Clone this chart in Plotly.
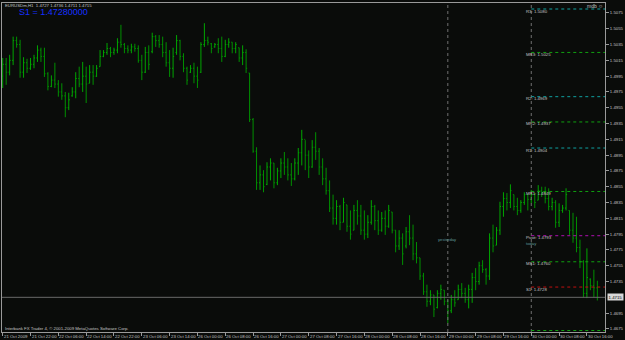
import plotly.graph_objects as go

# ---------------- data (EURUSDm, H1) ----------------
opens = [1.4995,1.5010,1.5000,1.5015,1.5040,1.5035,1.5000,1.5012,1.5005,1.5010,
         1.5018,1.5028,1.5020,1.4998,1.4982,1.4990,1.4985,1.4975,1.4970,1.4955,
         1.4970,1.4975,1.4992,1.4985,1.4995,1.4986,1.5000,1.4995,1.5007,1.5020,
         1.5025,1.5030,1.5025,1.5028,1.5038,1.5035,1.5030,1.5028,1.5032,1.5030,
         1.5015,1.5000,1.5025,1.5026,1.5045,1.5040,1.5035,1.5025,1.5012,1.5005,
         1.5025,1.5040,1.5020,1.5005,1.5000,1.5005,1.4995,1.5000,1.5035,1.5040,
         1.5036,1.5032,1.5035,1.5030,1.5020,1.5035,1.5038,1.5030,1.5031,1.5018,
         1.5025,1.4999,1.4940,1.4900,1.4860,1.4870,1.4858,1.4880,1.4885,1.4860,
         1.4875,1.4885,1.4880,1.4870,1.4865,1.4885,1.4898,1.4915,1.4895,1.4880,
         1.4905,1.4900,1.4880,1.4865,1.4850,1.4828,1.4815,1.4830,1.4810,1.4832,
         1.4805,1.4800,1.4825,1.4818,1.4800,1.4795,1.4810,1.4830,1.4812,1.4800,
         1.4815,1.4805,1.4823,1.4800,1.4780,1.4790,1.4780,1.4798,1.4790,1.4770,
         1.4765,1.4742,1.4722,1.4710,1.4718,1.4702,1.4720,1.4724,1.4710,1.4698,
         1.4712,1.4712,1.4725,1.4720,1.4712,1.4725,1.4740,1.4735,1.4755,1.4750,
         1.4742,1.4790,1.4781,1.4800,1.4830,1.4840,1.4835,1.4845,1.4830,1.4825,
         1.4835,1.4845,1.4839,1.4845,1.4838,1.4850,1.4848,1.4840,1.4830,1.4835,
         1.4810,1.4825,1.4828,1.4825,1.4800,1.4790,1.4778,1.4760,1.4720,1.4738,
         1.4730,1.4727]
highs = [1.5018,1.5018,1.5022,1.5045,1.5045,1.5041,1.5019,1.5017,1.5018,1.5022,
         1.5034,1.5031,1.5031,1.5000,1.4996,1.5012,1.4990,1.4986,1.4975,1.4974,
         1.4981,1.5000,1.5007,1.5013,1.5007,1.5009,1.5009,1.5009,1.5028,1.5028,
         1.5037,1.5032,1.5031,1.5043,1.5060,1.5037,1.5034,1.5036,1.5036,1.5034,
         1.5022,1.5032,1.5034,1.5050,1.5047,1.5047,1.5045,1.5038,1.5028,1.5031,
         1.5047,1.5041,1.5024,1.5007,1.5009,1.5012,1.5007,1.5038,1.5062,1.5045,
         1.5037,1.5037,1.5043,1.5045,1.5041,1.5043,1.5038,1.5038,1.5031,1.5034,
         1.5029,1.4999,1.4942,1.4905,1.4882,1.4876,1.4886,1.4891,1.4885,1.4879,
         1.4891,1.4899,1.4891,1.4885,1.4891,1.4904,1.4927,1.4914,1.4901,1.4914,
         1.4924,1.4904,1.4891,1.4879,1.4863,1.4845,1.4838,1.4832,1.4841,1.4832,
         1.4825,1.4832,1.4838,1.4832,1.4825,1.4819,1.4838,1.4832,1.4825,1.4823,
         1.4825,1.4832,1.4823,1.4800,1.4800,1.4796,1.4804,1.4819,1.4807,1.4785,
         1.4765,1.4746,1.4731,1.4724,1.4718,1.4724,1.4731,1.4724,1.4712,1.4718,
         1.4724,1.4731,1.4733,1.4727,1.4731,1.4746,1.4752,1.4760,1.4762,1.4752,
         1.4796,1.4807,1.4804,1.4836,1.4848,1.4847,1.4858,1.4845,1.4841,1.4838,
         1.4848,1.4845,1.4851,1.4847,1.4857,1.4855,1.4855,1.4853,1.4841,1.4838,
         1.4834,1.4832,1.4853,1.4825,1.4822,1.4817,1.4788,1.4762,1.4777,1.4739,
         1.4750,1.4736]
lows = [1.4980,1.4984,1.4996,1.5009,1.5031,1.4993,1.4993,1.4999,1.5003,1.5005,
        1.5013,1.5013,1.4994,1.4977,1.4981,1.4980,1.4969,1.4965,1.4943,1.4952,
        1.4969,1.4967,1.4981,1.4975,1.4961,1.4986,1.4984,1.4994,1.5007,1.5019,
        1.5022,1.5019,1.5022,1.5024,1.5031,1.5024,1.5024,1.5024,1.5026,1.5012,
        1.4990,1.4999,1.5003,1.5024,1.5032,1.5031,1.5019,1.5007,1.4994,1.4993,
        1.5022,1.5015,1.5000,1.4984,1.4999,1.4986,1.4980,1.4999,1.5032,1.5034,
        1.5024,1.5031,1.5024,1.5013,1.5019,1.5031,1.5024,1.5024,1.5013,1.5009,
        1.4999,1.4937,1.4898,1.4851,1.4851,1.4848,1.4857,1.4863,1.4853,1.4857,
        1.4866,1.4870,1.4863,1.4856,1.4863,1.4870,1.4882,1.4876,1.4866,1.4879,
        1.4889,1.4870,1.4857,1.4845,1.4823,1.4807,1.4807,1.4800,1.4810,1.4798,
        1.4788,1.4800,1.4807,1.4794,1.4788,1.4790,1.4807,1.4800,1.4794,1.4798,
        1.4794,1.4803,1.4796,1.4772,1.4775,1.4756,1.4777,1.4781,1.4762,1.4758,
        1.4737,1.4718,1.4703,1.4705,1.4690,1.4701,1.4712,1.4705,1.4682,1.4695,
        1.4703,1.4712,1.4714,1.4708,1.4701,1.4708,1.4724,1.4731,1.4746,1.4731,
        1.4737,1.4772,1.4781,1.4794,1.4817,1.4825,1.4828,1.4825,1.4819,1.4822,
        1.4832,1.4825,1.4834,1.4828,1.4838,1.4842,1.4834,1.4825,1.4825,1.4803,
        1.4804,1.4822,1.4825,1.4794,1.4784,1.4772,1.4752,1.4715,1.4714,1.4724,
        1.4715,1.4711]
closes = [1.5010,1.5000,1.5015,1.5040,1.5035,1.5000,1.5012,1.5005,1.5010,1.5018,
          1.5028,1.5020,1.4998,1.4982,1.4990,1.4985,1.4975,1.4970,1.4955,1.4965,
          1.4975,1.4992,1.4985,1.4995,1.4985,1.5000,1.4995,1.5005,1.5020,1.5025,
          1.5030,1.5025,1.5028,1.5038,1.5035,1.5030,1.5028,1.5032,1.5030,1.5015,
          1.5000,1.5025,1.5010,1.5045,1.5040,1.5035,1.5025,1.5012,1.5005,1.5020,
          1.5040,1.5020,1.5005,1.4990,1.5005,1.4995,1.4990,1.5035,1.5040,1.5038,
          1.5030,1.5035,1.5030,1.5020,1.5035,1.5038,1.5030,1.5035,1.5018,1.5025,
          1.5005,1.4940,1.4900,1.4860,1.4870,1.4855,1.4880,1.4885,1.4860,1.4875,
          1.4885,1.4880,1.4870,1.4865,1.4885,1.4898,1.4915,1.4895,1.4880,1.4905,
          1.4900,1.4880,1.4865,1.4850,1.4828,1.4815,1.4830,1.4810,1.4835,1.4805,
          1.4795,1.4825,1.4818,1.4800,1.4795,1.4810,1.4830,1.4812,1.4800,1.4815,
          1.4805,1.4825,1.4800,1.4780,1.4790,1.4770,1.4798,1.4790,1.4770,1.4765,
          1.4742,1.4722,1.4710,1.4718,1.4700,1.4720,1.4725,1.4710,1.4698,1.4712,
          1.4708,1.4725,1.4720,1.4712,1.4725,1.4740,1.4735,1.4755,1.4750,1.4742,
          1.4790,1.4780,1.4800,1.4830,1.4840,1.4835,1.4850,1.4830,1.4825,1.4835,
          1.4845,1.4839,1.4845,1.4835,1.4850,1.4848,1.4840,1.4830,1.4835,1.4810,
          1.4825,1.4828,1.4845,1.4800,1.4790,1.4778,1.4760,1.4720,1.4740,1.4730,
          1.4727,1.4715]

time_tick_bars = [0, 8, 16, 24, 32, 40, 48, 56, 64, 72, 80, 88, 96, 104, 112,
                  120, 128, 136, 144, 152, 160, 168]
time_tick_labels = ["21 Oct 2009", "21 Oct 22:00", "22 Oct 06:00", "22 Oct 14:00",
                    "22 Oct 22:00", "23 Oct 06:00", "23 Oct 14:00", "26 Oct 00:00",
                    "26 Oct 08:00", "26 Oct 16:00", "27 Oct 00:00", "27 Oct 08:00",
                    "27 Oct 16:00", "28 Oct 00:00", "28 Oct 08:00", "28 Oct 16:00",
                    "29 Oct 00:00", "29 Oct 08:00", "29 Oct 16:00", "30 Oct 00:00",
                    "30 Oct 08:00", "30 Oct 16:00"]
price_ticks = [1.4675, 1.4695, 1.4735, 1.4755, 1.4775, 1.4795, 1.4815,
               1.4835, 1.4855, 1.4875, 1.4895, 1.4915, 1.4935, 1.4955, 1.4975,
               1.4995, 1.5015, 1.5035, 1.5055, 1.5075]

pivot_names = ["R3", "MR3", "R2", "MR2", "R1", "MR1", "Pivot", "MS1", "S1", "MS2"]
pivot_levels = [1.5080, 1.5025, 1.4969, 1.4937, 1.4904, 1.4849, 1.4793, 1.4760, 1.4728, 1.4673]
pivot_colors = ["#10a0a0", "#10a010", "#10a0a0", "#10a010", "#10a0a0", "#10a010",
                "#b010b0", "#10a010", "#c01010", "#10a010"]
day_start_bars = [128, 152]
symbol_title = "EURUSDm,H1  1.4727 1.4736 1.4711 1.4715"
s1_text = "S1 = 1.47280000"
last_price = 1.4715

x = list(range(len(opens)))

BG = "#0a0c0a"
AX = "#9a9a9a"
TXT = "#c4c4c4"
SMALL = dict(size=4.3, color=TXT, family="Liberation Sans")
W, H = 625, 340
ML, MR, MT, MB = 1, 17, 3, 8
XR = [-0.2, 173.2]
YR = [1.46711, 1.50876]


def px(xp):
    return (xp - ML) / (W - ML - MR)


def py(yp):
    return (H - MB - yp) / (H - MT - MB)


fig = go.Figure()
fig.add_trace(go.Ohlc(
    x=x, open=opens, high=highs, low=lows, close=closes,
    increasing=dict(line=dict(color="#00a600", width=1)),
    decreasing=dict(line=dict(color="#009000", width=1)),
    tickwidth=0.3, hoverinfo="skip", showlegend=False,
))

shapes = []
for b in day_start_bars:
    shapes.append(dict(type="line", xref="x", yref="paper", x0=b, x1=b, y0=0, y1=1,
                       line=dict(color="#707070", width=1, dash="dot")))
shapes.append(dict(type="line", xref="paper", yref="y", x0=0, x1=1,
                   y0=last_price, y1=last_price, line=dict(color="#6a6a6a", width=1)))
for lvl, col in zip(pivot_levels, pivot_colors):
    shapes.append(dict(type="line", xref="x", yref="y", x0=day_start_bars[1], x1=XR[1],
                       y0=lvl, y1=lvl, line=dict(color=col, width=1, dash="dot")))

ann = []
for b, lab in zip(time_tick_bars, time_tick_labels):
    ann.append(dict(x=b, y=0, xref="x", yref="paper", text=lab, showarrow=False,
                    xanchor="left", yanchor="top", xshift=0, yshift=-1, borderpad=0,
                    font=SMALL))
for name, lvl in zip(pivot_names[:-1], pivot_levels[:-1]):
    ann.append(dict(x=day_start_bars[1] - 1.8, y=lvl, xref="x", yref="y",
                    text=f"{name}: {lvl:.4f}", showarrow=False, xanchor="left",
                    yanchor="middle", yshift=-2, borderpad=0, font=SMALL))
ann.append(dict(x=day_start_bars[1] - 1.8, y=pivot_levels[6], xref="x", yref="y",
                text="today", showarrow=False, xanchor="left", yanchor="middle",
                yshift=-8, borderpad=0, font=dict(size=4.2, color="#5f9a9a", family="Liberation Sans")))
ann.append(dict(x=day_start_bars[0], y=1.4788, xref="x", yref="y",
                text="yesterday", showarrow=False, xanchor="center", yanchor="middle",
                borderpad=0, font=dict(size=4.2, color="#5f9a9a", family="Liberation Sans")))
ann.append(dict(x=1, y=last_price, xref="paper", yref="y", text=f"{last_price:.4f}",
                showarrow=False, xanchor="left", yanchor="middle", xshift=2, borderpad=0.6,
                bgcolor="#d8d8d8", font=dict(size=4.3, color="#000000", family="Liberation Sans")))
ann.append(dict(x=px(3), y=py(2), xref="paper", yref="paper", text=symbol_title,
                showarrow=False, xanchor="left", yanchor="top", borderpad=0, font=SMALL))
ann.append(dict(x=px(17), y=py(11.5), xref="paper", yref="paper", text=s1_text,
                showarrow=False, xanchor="left", yanchor="middle", borderpad=0,
                font=dict(size=9, color="#1530ff", family="Liberation Sans")))
ann.append(dict(x=px(607), y=py(2), xref="paper", yref="paper", text="mdb \u263a",
                showarrow=False, xanchor="right", yanchor="top", borderpad=0,
                font=dict(size=5, color=TXT, family="Liberation Sans")))
ann.append(dict(x=px(3), y=py(328), xref="paper", yref="paper",
                text="Interbank FX Trader 4, \u00a9 2001-2009 MetaQuotes Software Corp.",
                showarrow=False, xanchor="left", yanchor="middle", borderpad=0, font=SMALL))

fig.update_layout(
    width=W, height=H,
    margin=dict(l=ML, r=MR, t=MT, b=MB, pad=0),
    paper_bgcolor=BG, plot_bgcolor=BG,
    showlegend=False,
    shapes=shapes, annotations=ann,
    xaxis=dict(range=XR, showticklabels=False, tickvals=time_tick_bars,
               ticks="outside", ticklen=3, tickcolor=AX, showline=True,
               linecolor=AX, linewidth=1, mirror=True, showgrid=False,
               zeroline=False, rangeslider=dict(visible=False), fixedrange=True),
    yaxis=dict(range=YR, side="right", tickvals=price_ticks, tickformat=".4f",
               ticks="outside", ticklen=3, tickcolor=AX,
               tickfont=SMALL,
               showline=True, linecolor=AX, linewidth=1, mirror=True,
               showgrid=False, zeroline=False, fixedrange=True),
)

fig.write_html("out.html")
